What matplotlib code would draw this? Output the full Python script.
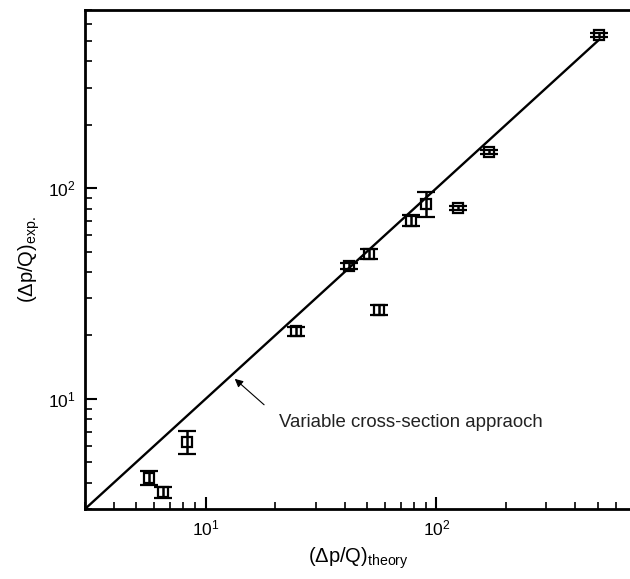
import numpy as np
import matplotlib
matplotlib.use('Agg')
from matplotlib import pyplot as plt

plt.rcParams['font.family'] = ['Liberation Sans', 'DejaVu Sans']
plt.rcParams['mathtext.fontset'] = 'custom'
plt.rcParams['mathtext.rm'] = 'Liberation Sans'
plt.rcParams['mathtext.it'] = 'Liberation Sans:italic'
plt.rcParams['mathtext.bf'] = 'Liberation Sans:bold'

# data
dp_theory = [5.68, 6.53, 8.30, 24.7, 41.7, 51.0, 56.2, 77.4, 90.5, 124.5, 168.6, 505.0]
dp_exp = [4.22, 3.60, 6.25, 20.9, 42.8, 48.8, 26.5, 70.3, 84.4, 80.9, 149.3, 537.0]
dp_err = [0.33, 0.23, 0.8, 1.1, 1.4, 2.7, 1.4, 4.2, 11.5, 1.8, 3.3, 12.0]

line_x = [3.0, 510.0]
line_y = [3.0, 510.0]

fig = plt.figure(figsize=(6.3, 5.79), dpi=100)
ax = fig.add_axes([85/630, 70/579, 546.3/630, 498.7/579])

ax.plot(line_x, line_y, color='black', lw=1.7)
ax.errorbar(dp_theory, dp_exp, yerr=dp_err, fmt='s', color='black', ms=6.5, mfc='none',
            mew=1.6, elinewidth=1.8, capsize=6.5, capthick=2.2)

ax.set_xscale('log')
ax.set_yscale('log')
ax.set_xlim(3, 700)
ax.set_ylim(3, 700)

ax.annotate('', xy=(13.1, 12.7), xytext=(18.3, 9.19),
            arrowprops=dict(arrowstyle='-|>', color='black', lw=0.8, mutation_scale=12))
ax.text(20.9, 7.74, 'Variable cross-section appraoch', fontsize=13.4, va='center', ha='left',
        color='#222222')

ax.set_xlabel('(Δp/Q)$_{\\mathrm{theory}}$', fontsize=14.5, labelpad=5)
ax.set_ylabel('(Δp/Q)$_{\\mathrm{exp.}}$', fontsize=14.5, labelpad=4)

for s in ['left', 'bottom', 'top', 'right']:
    ax.spines[s].set_linewidth(2.0)

ax.tick_params(which='major', direction='in', length=8.5, width=1.5, labelsize=12.5, pad=7,
               top=False, right=False)
ax.tick_params(which='minor', direction='in', length=5, width=1.2, top=False, right=False)

plt.savefig('out.png', dpi=100)
